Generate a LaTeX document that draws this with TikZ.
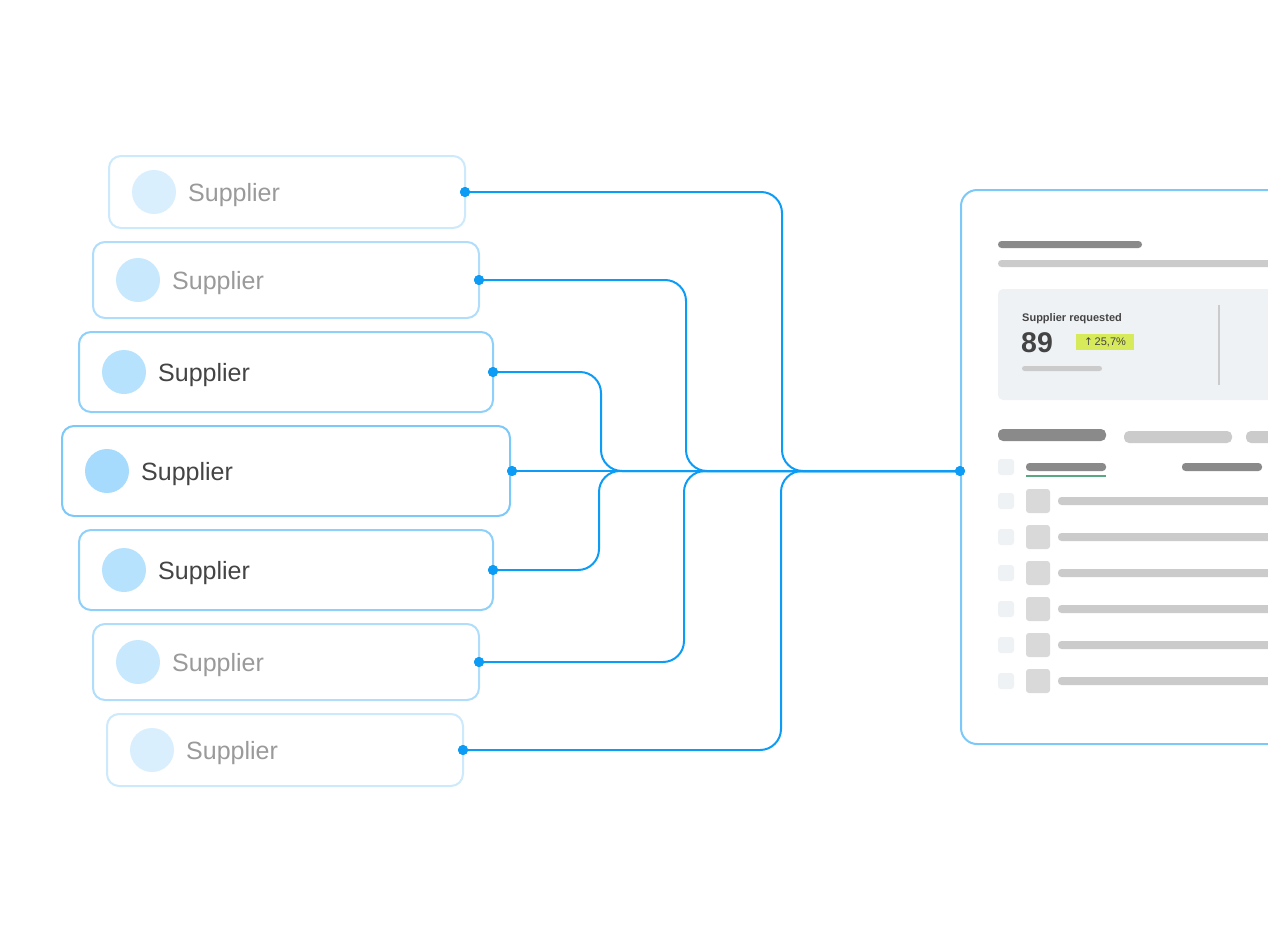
\documentclass[tikz,border=0pt]{standalone}
\usepackage{fontspec}
\setmainfont{Liberation Sans}
\newfontfamily\dejavu{DejaVu Sans}
\definecolor{connblue}{HTML}{0C9BF5}
\definecolor{bdA}{HTML}{CDE9FC}
\definecolor{bdB}{HTML}{B0DDFB}
\definecolor{bdC}{HTML}{8FD0FA}
\definecolor{bdD}{HTML}{7CC8F8}
\definecolor{avA}{HTML}{DAEFFD}
\definecolor{avB}{HTML}{C8E8FD}
\definecolor{avC}{HTML}{B6E2FD}
\definecolor{avD}{HTML}{A6DBFD}
\definecolor{txtdark}{HTML}{444444}
\definecolor{txtgray}{HTML}{9A9A9A}
\definecolor{bardark}{HTML}{8A8A8A}
\definecolor{barlight}{HTML}{CBCBCB}
\definecolor{cardbg}{HTML}{EFF2F5}
\definecolor{sqgray}{HTML}{D9D9D9}
\definecolor{badge}{HTML}{D7EA5A}
\definecolor{ulgreen}{HTML}{5AA882}
\begin{document}
\begin{tikzpicture}[x=1pt,y=-1pt,
  sbox/.style={draw, line width=2pt, rounded corners=12pt, fill=white, inner sep=0pt},
  avatar/.style={circle, minimum size=44pt, inner sep=0pt},
  lbl/.style={anchor=base west, font=\fontsize{25}{30}\selectfont, inner sep=0pt},
  dot/.style={circle, fill=connblue, minimum size=10pt, inner sep=0pt},
  conn/.style={draw=connblue, line width=2pt, rounded corners=21pt},
  bar/.style={rounded corners=3.5pt}
]
\path[use as bounding box] (0,0) rectangle (1268,934);
\clip (0,0) rectangle (1268,934);

% supplier boxes
\node[sbox, draw=bdA, minimum width=356pt, minimum height=72pt] (b1) at (287,192) {};
\node[sbox, draw=bdB, minimum width=386pt, minimum height=76pt] (b2) at (286,280) {};
\node[sbox, draw=bdC, minimum width=414pt, minimum height=80pt] (b3) at (286,372) {};
\node[sbox, draw=bdD, minimum width=448pt, minimum height=90pt] (b4) at (286,471) {};
\node[sbox, draw=bdC, minimum width=414pt, minimum height=80pt] (b5) at (286,570) {};
\node[sbox, draw=bdB, minimum width=386pt, minimum height=76pt] (b6) at (286,662) {};
\node[sbox, draw=bdA, minimum width=356pt, minimum height=72pt] (b7) at (285,750) {};

\node[avatar, fill=avA] (a1) at (154,192) {};
\node[avatar, fill=avB] (a2) at (138,280) {};
\node[avatar, fill=avC] (a3) at (124,372) {};
\node[avatar, fill=avD] (a4) at (107,471) {};
\node[avatar, fill=avC] (a5) at (124,570) {};
\node[avatar, fill=avB] (a6) at (138,662) {};
\node[avatar, fill=avA] (a7) at (152,750) {};

\node[lbl, text=txtgray] (t1) at (188,201) {Supplier};
\node[lbl, text=txtgray] (t2) at (172,289) {Supplier};
\node[lbl, text=txtdark] (t3) at (158,381) {Supplier};
\node[lbl, text=txtdark] (t4) at (141,480) {Supplier};
\node[lbl, text=txtdark] (t5) at (158,579) {Supplier};
\node[lbl, text=txtgray] (t6) at (172,671) {Supplier};
\node[lbl, text=txtgray] (t7) at (186,759) {Supplier};

% dashboard panel
\draw[draw=bdD, line width=2pt, rounded corners=16pt, fill=white] (961,190) rectangle (1320,744);
\fill[bardark, bar] (998,241) rectangle (1142,248);
\fill[barlight, bar] (998,260) rectangle (1320,267);
\fill[cardbg, rounded corners=5pt] (998,289) rectangle (1320,400);
\node[anchor=base west, inner sep=0pt, text=txtdark, font=\fontsize{11}{13}\selectfont\bfseries] (kpit) at (1022,321) {Supplier requested};
\node[anchor=base west, inner sep=0pt, text=txtdark, font=\fontsize{28.5}{33}\selectfont\bfseries] (kpiv) at (1021,352) {89};
\fill[badge] (1076,334) rectangle (1134,350);
\node[inner sep=0pt, text=txtdark, font=\fontsize{11}{12}\selectfont] (kpib) at (1105,342) {{\dejavu\fontsize{10.5}{12}\selectfont ↑}\,25,7\%};
\fill[barlight, rounded corners=2.5pt] (1022,366) rectangle (1102,371);
\draw[barlight, line width=2pt] (1219,305) -- (1219,385);

\fill[bardark, rounded corners=5pt] (998,429) rectangle (1106,441);
\fill[barlight, rounded corners=5pt] (1124,431) rectangle (1232,443);
\fill[barlight, rounded corners=5pt] (1246,431) rectangle (1320,443);

\fill[cardbg, rounded corners=3pt] (998,459) rectangle (1014,475);
\fill[bardark, bar] (1026,463) rectangle (1106,471);
\draw[ulgreen, line width=1.6pt] (1026,476) -- (1106,476);
\fill[bardark, bar] (1182,463) rectangle (1262,471);

\foreach \yy in {501,537,573,609,645,681}{
  \fill[cardbg, rounded corners=3pt] (998,\yy-8) rectangle (1014,\yy+8);
  \fill[sqgray, rounded corners=3pt] (1026,\yy-12) rectangle (1050,\yy+12);
  \fill[barlight, bar] (1058,\yy-4) rectangle (1320,\yy+4);
}

% dots
\node[dot] (d1) at ([xshift=-1pt]b1.east) {};
\node[dot] (d2) at ([xshift=-1pt]b2.east) {};
\node[dot] (d3) at ([xshift=-1pt]b3.east) {};
\node[dot] (d4) at ([xshift=1pt]b4.east) {};
\node[dot] (d5) at ([xshift=-1pt]b5.east) {};
\node[dot] (d6) at ([xshift=-1pt]b6.east) {};
\node[dot] (d7) at ([xshift=-1pt]b7.east) {};
\node[dot] (pin) at (960,471) {};

% junctions
\coordinate (j1) at (782,471);
\coordinate (j2) at (686,471);
\coordinate (j3) at (601,471);
\coordinate (j5) at (599,471);
\coordinate (j6) at (684,471);
\coordinate (j7) at (781,471);

% connectors
\draw[conn] (d1.center) -| (j1) -- (pin.center);
\draw[conn] (d2.center) -| (j2) -- (pin.center);
\draw[conn] (d3.center) -| (j3) -- (pin.center);
\draw[conn] (d5.center) -| (j5) -- (pin.center);
\draw[conn] (d6.center) -| (j6) -- (pin.center);
\draw[conn] (d7.center) -| (j7) -- (pin.center);
\draw[conn] (d4.center) -- (pin.center);

% redraw dots on top
\foreach \d in {d1,d2,d3,d4,d5,d6,d7,pin}{\fill[connblue] (\d.center) circle (5pt);}
\end{tikzpicture}
\end{document}
